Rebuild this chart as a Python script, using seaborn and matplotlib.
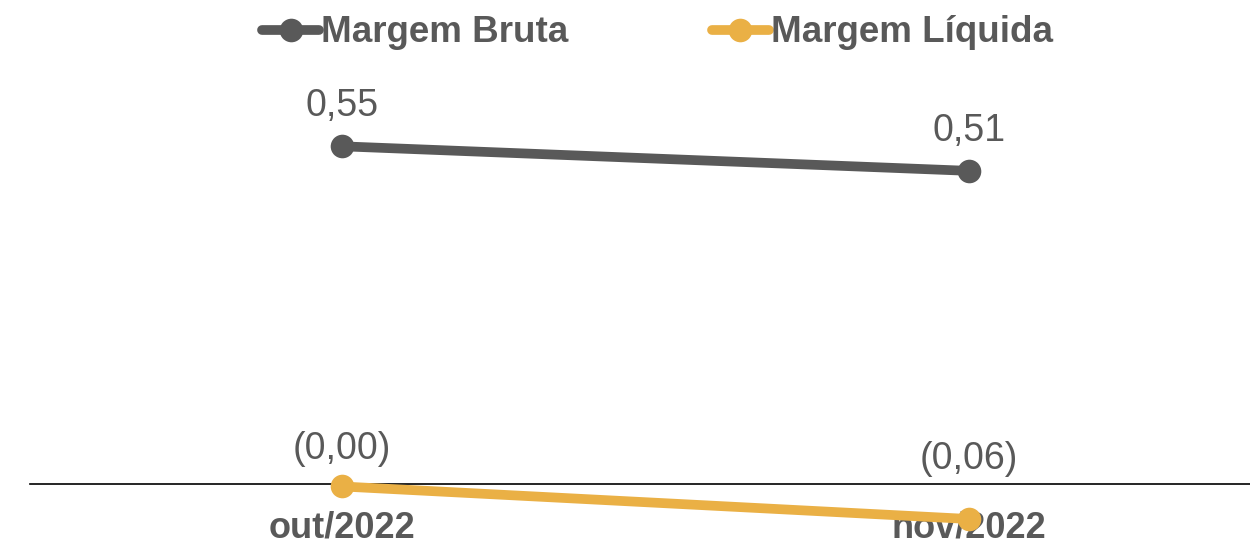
import matplotlib
matplotlib.use("Agg")
import matplotlib.pyplot as plt
import seaborn as sns
import pandas as pd

categories = ["out/2022", "nov/2022"]
margem_bruta = [0.55, 0.51]
margem_liquida = [-0.004, -0.057]
series_names = ["Margem Bruta", "Margem Líquida"]

sns.set_theme(style="white")
plt.rcParams['font.family'] = ['Liberation Sans', 'DejaVu Sans']

TXT = "#595959"
colors = {"Margem Bruta": "#595959", "Margem Líquida": "#EAB045"}

df = pd.DataFrame({
    "mes": categories * 2,
    "valor": margem_bruta + margem_liquida,
    "serie": [series_names[0]] * 2 + [series_names[1]] * 2,
})

fig = plt.figure(figsize=(12.5, 5.43), dpi=100)
ax = fig.add_axes([30 / 1250, 0, 1 - 30 / 1250, 1])

sns.lineplot(data=df, x="mes", y="valor", hue="serie", palette=colors,
             marker="o", markersize=17, linewidth=7, markeredgewidth=0,
             ax=ax, legend=True)

ax.set_xlim(-(342 - 30) / 627, (1250 - 342) / 627)
ax.set_ylim(-(543 - 484) / 614, 484 / 614)

for name, s in ax.spines.items():
    s.set_visible(name == "bottom")
ax.spines["bottom"].set_position(("data", 0))
ax.spines["bottom"].set_color("black")
ax.spines["bottom"].set_linewidth(1.2)
ax.spines["bottom"].set_zorder(1)
ax.set_yticks([])
ax.set_xlabel("")
ax.set_ylabel("")
ax.tick_params(axis="x", length=0, pad=19)
for lbl in ax.get_xticklabels():
    lbl.set_fontsize(26)
    lbl.set_fontweight("bold")
    lbl.set_color(TXT)


def fmt(v):
    s = f"{abs(v):.2f}".replace(".", ",")
    return f"({s})" if v < 0 else s

label_offsets = {0: [29, 29], 1: [27, 43]}
for si, vals in enumerate([margem_bruta, margem_liquida]):
    for xi, v in enumerate(vals):
        ax.annotate(fmt(v), (xi, v), xytext=(0, label_offsets[si][xi]),
                    textcoords="offset points", ha="center", va="center",
                    fontsize=27, color=TXT)

handles, labels = ax.get_legend_handles_labels()
ax.legend_.remove()
leg = fig.legend(handles, labels, loc="center", bbox_to_anchor=(0.526, 1 - 33 / 543),
                 ncol=2, frameon=False, handlelength=1.55, handletextpad=0.05,
                 columnspacing=3.9, prop={"size": 26.5, "weight": "bold"})
for t in leg.get_texts():
    t.set_color(TXT)

fig.savefig("out.png", dpi=100)
